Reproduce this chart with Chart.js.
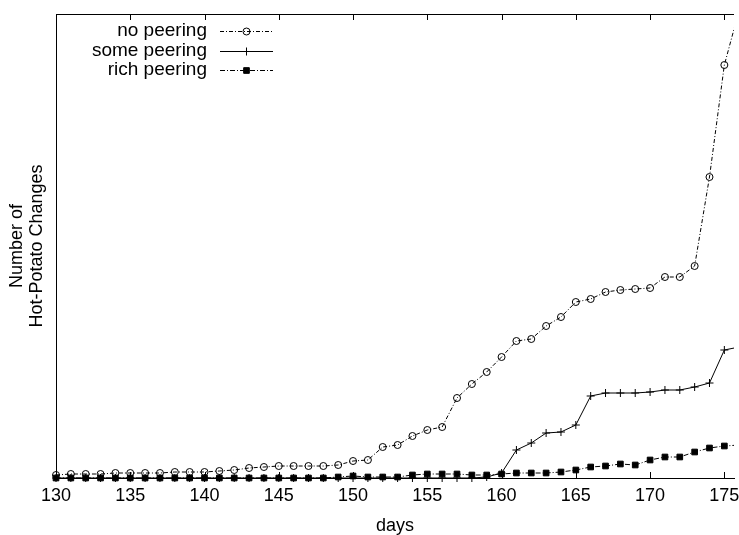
<!DOCTYPE html>
<html>
<head>
<meta charset="utf-8">
<script src="https://cdn.jsdelivr.net/npm/chart.js@4.4.0/dist/chart.umd.min.js"></script>
<style>
	body { margin: 0; background: #fff; }
	#wrap { width: 739px; height: 535px; position: relative; }
</style>
</head>
<body>
<div id="wrap"><canvas id="hotpotato"></canvas></div>
<script>

// days (x) and the three curves
const days = [130, 131, 132, 133, 134, 135, 136, 137, 138, 139,
	140, 141, 142, 143, 144, 145, 146, 147, 148, 149,
	150, 151, 152, 153, 154, 155, 156, 157, 158, 159,
	160, 161, 162, 163, 164, 165, 166, 167, 168, 169,
	170, 171, 172, 173, 174, 175, 176];

const noPeering = [3, 4, 4, 4, 5, 5, 5, 5, 6, 6,
	6, 7, 8, 10, 11, 12, 12, 12, 12, 13,
	17, 18, 31, 33, 42, 48, 51, 80, 94, 106,
	121, 137, 139, 152, 161, 176, 179, 186, 188, 189,
	190, 201, 201, 212, 301, 413, 468];

const somePeering = [0, 0, 0, 0, 0, 0, 0, 0, 0, 0,
	0, 0, 0, 0, 0, 0, 0, 0, 0, 0,
	0, 0, 0, 0, 0, 0, 0, 0, 0, 1,
	5, 28, 35, 45, 46, 53, 82, 85, 85, 85,
	86, 88, 88, 91, 95, 128, 131];

const richPeering = [0, 0, 0, 0, 0, 0, 0, 0, 0, 0,
	0, 0, 0, 0, 0, 0, 0, 0, 0, 1,
	2, 1, 1, 1, 3, 4, 4, 4, 3, 3,
	4, 5, 5, 5, 6, 8, 11, 12, 14, 13,
	18, 21, 21, 26, 30, 32, 33];

const xTicks = [130, 135, 140, 145, 150, 155, 160, 165, 170, 175];
const seriesNames = ['no peering', 'some peering', 'rich peering'];

const fontFam = "'Liberation Sans', Arial, Helvetica, sans-serif";

function toPoints(values) {
	return days.map((d, i) => ({ x: d, y: values[i] }));
}

//=====================================
// gnuplot style: top border + inward ticks, legend at top left
//=====================================
const gnuplotFrame = {
	id: 'gnuplotFrame',
	afterDraw(chart) {
		const ctx = chart.ctx;
		const area = chart.chartArea;
		const xs = chart.scales.x;
		ctx.save();
		ctx.strokeStyle = '#000';
		ctx.lineWidth = 1;
		ctx.setLineDash([]);
		ctx.beginPath();
		ctx.moveTo(area.left, area.top + 0.5);
		ctx.lineTo(area.right, area.top + 0.5);
		xTicks.forEach(t => {
			const px = Math.round(xs.getPixelForValue(t)) + 0.5;
			ctx.moveTo(px, area.bottom);
			ctx.lineTo(px, area.bottom - 6);
			ctx.moveTo(px, area.top);
			ctx.lineTo(px, area.top + 6);
		});
		ctx.stroke();

		// legende
		const rowsY = [31, 51, 70];
		ctx.font = '19px ' + fontFam;
		ctx.textAlign = 'right';
		ctx.textBaseline = 'middle';
		chart.data.datasets.forEach((ds, i) => {
			const y = rowsY[i];
			ctx.fillStyle = '#000';
			ctx.fillText(ds.label, 207, y);
			ctx.save();
			ctx.strokeStyle = '#000';
			ctx.lineWidth = 1;
			ctx.setLineDash(ds.borderDash || []);
			ctx.beginPath();
			ctx.moveTo(220, y + 0.5);
			ctx.lineTo(273, y + 0.5);
			ctx.stroke();
			ctx.setLineDash([]);
			// drawPoint prend les couleurs du ctx
			ctx.fillStyle = ds.pointBackgroundColor;
			ctx.strokeStyle = ds.pointBorderColor;
			Chart.helpers.drawPoint(ctx, {
				pointStyle: ds.pointStyle,
				radius: ds.pointRadius,
				borderWidth: ds.pointBorderWidth,
				rotation: 0
			}, 246.5, y + 0.5);
			ctx.restore();
		});
		ctx.restore();
	}
};

const ctx = document.getElementById('hotpotato').getContext('2d');

const data = {
	datasets: [{
		label: seriesNames[0],
		data: toPoints(noPeering),
		borderColor: '#000',
		borderWidth: 1,
		borderDash: [4, 2, 1, 2],
		pointStyle: 'circle',
		pointRadius: 3.5,
		pointBorderWidth: 1,
		pointBorderColor: '#000',
		pointBackgroundColor: 'rgba(0,0,0,0)',
		order: 3
	}, {
		label: seriesNames[1],
		data: toPoints(somePeering),
		borderColor: '#000',
		borderWidth: 1,
		pointStyle: 'cross',
		pointRadius: 4,
		pointBorderWidth: 1,
		pointBorderColor: '#000',
		pointBackgroundColor: '#000',
		order: 2
	}, {
		label: seriesNames[2],
		data: toPoints(richPeering),
		borderColor: '#000',
		borderWidth: 1,
		borderDash: [5, 2, 1, 2],
		pointStyle: 'rect',
		pointRadius: 4,
		pointBorderWidth: 1,
		pointBorderColor: '#000',
		pointBackgroundColor: '#000',
		order: 1
	}]
};

const config = {
	type: 'line',
	data: data,
	options: {
		responsive: true,
		maintainAspectRatio: false,
		animation: false,
		layout: { padding: { top: 14, right: 0, bottom: 0, left: 0 } },
		datasets: {
			line: {
				tension: 0,
				fill: false,
				clip: { left: 6, top: 0, right: 0, bottom: 6 }
			}
		},
		plugins: {
			legend: { display: false },
			tooltip: { enabled: false }
		},
		scales: {
			x: {
				type: 'linear',
				min: 130,
				max: 175.65,
				grid: { display: false, drawTicks: false },
				border: { display: true, color: '#000', width: 1 },
				afterBuildTicks: (scale) => {
					scale.ticks = xTicks.map(v => ({ value: v }));
				},
				afterFit: (scale) => {
					scale.height = 57;
					scale.paddingRight = 0;
					scale.paddingLeft = 0;
				},
				ticks: {
					color: '#000',
					padding: 7,
					maxRotation: 0,
					autoSkip: false,
					font: { family: fontFam, size: 18 }
				},
				title: {
					display: true,
					text: 'days',
					color: '#000',
					padding: { top: 0, bottom: 0 },
					font: { family: fontFam, size: 18, lineHeight: 1 }
				}
			},
			y: {
				min: 0,
				max: 464,
				grid: { display: false, drawTicks: false },
				border: { display: true, color: '#000', width: 1 },
				ticks: { display: false },
				afterFit: (scale) => {
					scale.width = 56;
				},
				title: {
					display: true,
					text: ['Number of', 'Hot-Potato Changes'],
					color: '#000',
					padding: { top: 7, bottom: 0 },
					font: { family: fontFam, size: 18, lineHeight: 1.1 }
				}
			}
		}
	},
	plugins: [gnuplotFrame]
};

var myChart = new Chart(ctx, config);
</script>
</body>
</html>
